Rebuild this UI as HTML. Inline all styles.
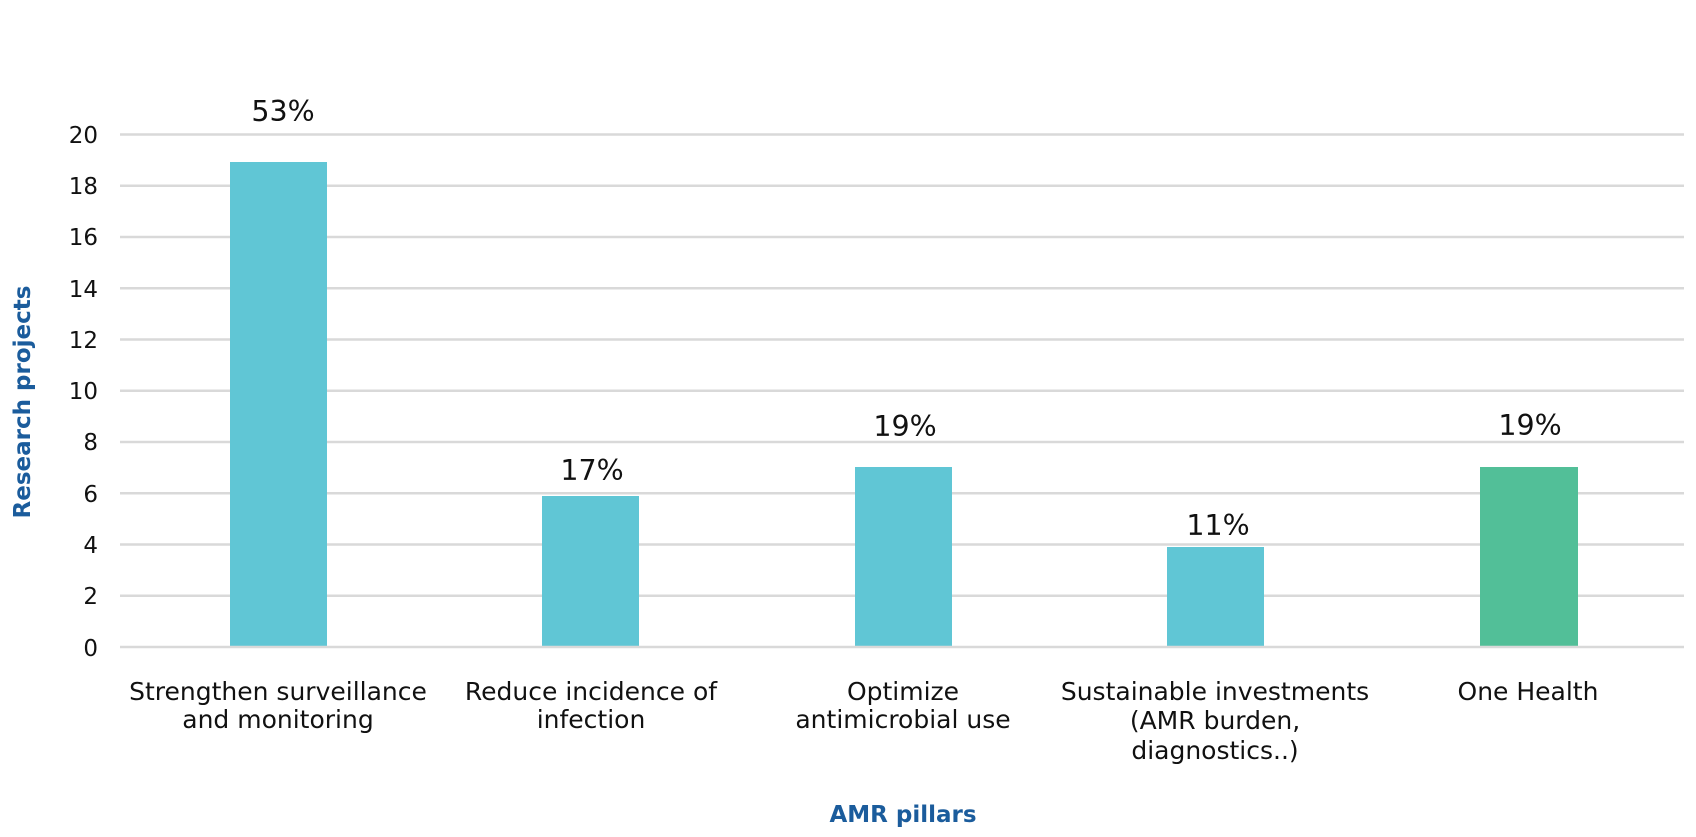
<!DOCTYPE html>
<html><head><style>
body{margin:0;background:#fff;}
svg text{font-family:"DejaVu Sans","Liberation Sans",sans-serif;}
</style></head><body>
<svg width="1696" height="832" viewBox="0 0 1696 832" xmlns="http://www.w3.org/2000/svg">
<g stroke="#d9d9d9" stroke-width="2.5">
<line x1="120" x2="1684" y1="134.5" y2="134.5"/>
<line x1="120" x2="1684" y1="185.75" y2="185.75"/>
<line x1="120" x2="1684" y1="237" y2="237"/>
<line x1="120" x2="1684" y1="288.25" y2="288.25"/>
<line x1="120" x2="1684" y1="339.5" y2="339.5"/>
<line x1="120" x2="1684" y1="390.75" y2="390.75"/>
<line x1="120" x2="1684" y1="442" y2="442"/>
<line x1="120" x2="1684" y1="493.25" y2="493.25"/>
<line x1="120" x2="1684" y1="544.5" y2="544.5"/>
<line x1="120" x2="1684" y1="595.75" y2="595.75"/>
</g>
<g fill="#60c6d5">
<rect x="230" y="162" width="97" height="485"/>
<rect x="542" y="496" width="97" height="151"/>
<rect x="855" y="467" width="97" height="180"/>
<rect x="1167" y="547" width="97" height="100"/>
</g>
<rect x="1480" y="467" width="98" height="180" fill="#52bf98"/>
<line x1="120" x2="1684" y1="647" y2="647" stroke="#d9d9d9" stroke-width="2.5"/>
<g font-size="23" fill="#111" text-anchor="end">
<text x="98" y="143">20</text><text x="98" y="194">18</text><text x="98" y="245">16</text>
<text x="98" y="297">14</text><text x="98" y="348">12</text><text x="98" y="399">10</text>
<text x="98" y="450">8</text><text x="98" y="502">6</text><text x="98" y="553">4</text>
<text x="98" y="604">2</text><text x="98" y="656">0</text>
</g>
<g font-size="28.5" fill="#111" text-anchor="middle">
<text x="283" y="121">53%</text><text x="592" y="480">17%</text><text x="905" y="436">19%</text>
<text x="1218" y="535">11%</text><text x="1530" y="435">19%</text>
</g>
<g font-size="25" fill="#111" text-anchor="middle">
<text x="278" y="700">Strengthen surveillance</text><text x="278" y="728">and monitoring</text>
<text x="591" y="700">Reduce incidence of</text><text x="591" y="728">infection</text>
<text x="903" y="700">Optimize</text><text x="903" y="728">antimicrobial use</text>
<text x="1215" y="700">Sustainable investments</text><text x="1215" y="729">(AMR burden,</text><text x="1215" y="759">diagnostics..)</text>
<text x="1528" y="700">One Health</text>
</g>
<text x="903" y="822" font-size="23" font-weight="bold" fill="#1b5c9c" text-anchor="middle">AMR pillars</text>
<text transform="translate(30,402) rotate(-90)" font-size="23" font-weight="bold" fill="#1b5c9c" text-anchor="middle">Research projects</text>
</svg>
</body></html>
